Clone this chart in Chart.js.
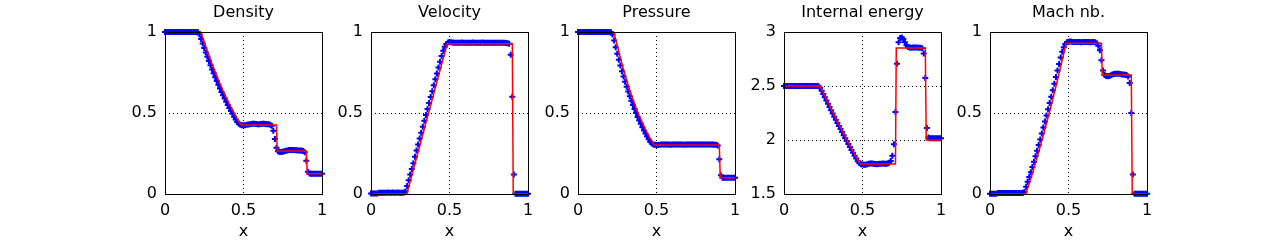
<!DOCTYPE html>
<html>
<head>
<meta charset="utf-8">
<script src="https://cdn.jsdelivr.net/npm/chart.js@4.4.1/dist/chart.umd.min.js"></script>
<style>
  html, body { margin: 0; padding: 0; background: #fff; }
  #wrap { position: relative; width: 1267px; height: 243px; overflow: hidden; background: #fff; }
  #wrap canvas { position: absolute; top: 0; }
</style>
</head>
<body>
<div id="wrap">
  <canvas id="c0" width="267" height="243"></canvas>
  <canvas id="c1" width="267" height="243"></canvas>
  <canvas id="c2" width="267" height="243"></canvas>
  <canvas id="c3" width="267" height="243"></canvas>
  <canvas id="c4" width="267" height="243"></canvas>
</div>
<script>
// Sod shock tube: numerical solution (blue +) against exact solution (red)

// cell grid
const xGrid = [
  0, 0.01, 0.02, 0.03, 0.04, 0.05, 0.06, 0.07, 0.08, 0.09,
  0.10, 0.11, 0.12, 0.13, 0.14, 0.15, 0.16, 0.17, 0.18, 0.19,
  0.20, 0.21, 0.22, 0.23, 0.24, 0.25, 0.26, 0.27, 0.28, 0.29,
  0.30, 0.31, 0.32, 0.33, 0.34, 0.35, 0.36, 0.37, 0.38, 0.39,
  0.40, 0.41, 0.42, 0.43, 0.44, 0.45, 0.46, 0.47, 0.48, 0.49,
  0.50, 0.51, 0.52, 0.53, 0.54, 0.55, 0.56, 0.57, 0.58, 0.59,
  0.60, 0.61, 0.62, 0.63, 0.64, 0.65, 0.66, 0.67, 0.68, 0.69,
  0.70, 0.71, 0.72, 0.73, 0.74, 0.75, 0.76, 0.77, 0.78, 0.79,
  0.80, 0.81, 0.82, 0.83, 0.84, 0.85, 0.86, 0.87, 0.88, 0.89,
  0.90, 0.91, 0.92, 0.93, 0.94, 0.95, 0.96, 0.97, 0.98, 0.99,
  1.00
];

// numerical values (blue markers)
const density = [
  1, 1, 1, 1, 1, 1, 1, 1, 1, 1,
  1, 1, 1, 1, 1, 1, 1, 1, 1, 1,
  1, 0.998, 0.985, 0.957, 0.929, 0.901, 0.874, 0.847, 0.821, 0.795,
  0.769, 0.745, 0.720, 0.697, 0.674, 0.652, 0.630, 0.609, 0.589, 0.569,
  0.549, 0.531, 0.512, 0.495, 0.477, 0.460, 0.445, 0.434, 0.428, 0.425,
  0.424, 0.425, 0.427, 0.429, 0.431, 0.432, 0.433, 0.433, 0.432, 0.431,
  0.431, 0.432, 0.433, 0.433, 0.432, 0.431, 0.430, 0.428, 0.422, 0.390,
  0.340, 0.285, 0.264, 0.259, 0.259, 0.261, 0.264, 0.267, 0.269, 0.271,
  0.272, 0.272, 0.271, 0.270, 0.270, 0.269, 0.269, 0.268, 0.266, 0.258,
  0.206, 0.138, 0.126, 0.125, 0.125, 0.125, 0.125, 0.125, 0.125, 0.125,
  0.125
];

const velocity = [
  0.003, 0.003, 0.003, 0.003, 0.003, 0.008, 0.008, 0.008, 0.008, 0.008,
  0.008, 0.009, 0.008, 0.008, 0.009, 0.008, 0.008, 0.009, 0.008, 0.008,
  0.008, 0.009, 0.015, 0.050, 0.085, 0.120, 0.155, 0.190, 0.230, 0.268,
  0.305, 0.342, 0.378, 0.415, 0.452, 0.488, 0.525, 0.561, 0.598, 0.634,
  0.671, 0.708, 0.744, 0.781, 0.817, 0.852, 0.884, 0.909, 0.926, 0.935,
  0.938, 0.937, 0.935, 0.934, 0.934, 0.933, 0.934, 0.934, 0.935, 0.934,
  0.934, 0.933, 0.933, 0.934, 0.934, 0.935, 0.934, 0.934, 0.933, 0.934,
  0.934, 0.935, 0.934, 0.934, 0.933, 0.933, 0.934, 0.934, 0.934, 0.933,
  0.934, 0.934, 0.933, 0.934, 0.934, 0.933, 0.932, 0.931, 0.928, 0.860,
  0.600, 0.120, 0.002, 0.002, 0.002, 0.002, 0.002, 0.002, 0.002, 0.002,
  0.002
];

const pressure = [
  1, 1, 1, 1, 1, 1, 1, 1, 1, 1,
  1, 1, 1, 1, 1, 1, 1, 1, 1, 1,
  1, 0.998, 0.985, 0.948, 0.906, 0.866, 0.829, 0.793, 0.758, 0.725,
  0.693, 0.662, 0.632, 0.603, 0.576, 0.550, 0.524, 0.500, 0.476, 0.454,
  0.433, 0.412, 0.392, 0.373, 0.355, 0.338, 0.323, 0.312, 0.306, 0.304,
  0.303, 0.303, 0.304, 0.305, 0.306, 0.306, 0.306, 0.305, 0.305, 0.304,
  0.305, 0.305, 0.306, 0.306, 0.306, 0.305, 0.305, 0.305, 0.304, 0.305,
  0.305, 0.305, 0.306, 0.306, 0.306, 0.306, 0.305, 0.305, 0.305, 0.305,
  0.305, 0.306, 0.306, 0.306, 0.305, 0.305, 0.305, 0.304, 0.304, 0.300,
  0.214, 0.115, 0.101, 0.1, 0.1, 0.1, 0.1, 0.1, 0.1, 0.1,
  0.1
];

const energy = [
  2.5, 2.5, 2.5, 2.5, 2.5, 2.5, 2.5, 2.5, 2.5, 2.5,
  2.5, 2.5, 2.5, 2.5, 2.5, 2.5, 2.5, 2.5, 2.5, 2.5,
  2.5, 2.5, 2.497, 2.483, 2.455, 2.425, 2.395, 2.365, 2.335, 2.305,
  2.275, 2.245, 2.215, 2.187, 2.158, 2.130, 2.101, 2.073, 2.045, 2.017,
  1.990, 1.962, 1.935, 1.908, 1.881, 1.855, 1.829, 1.804, 1.786, 1.776,
  1.772, 1.770, 1.771, 1.775, 1.779, 1.782, 1.783, 1.781, 1.778, 1.776,
  1.777, 1.779, 1.781, 1.782, 1.781, 1.780, 1.782, 1.790, 1.805, 1.855,
  1.960, 2.260, 2.705, 2.905, 2.945, 2.950, 2.935, 2.905, 2.878, 2.862,
  2.856, 2.855, 2.856, 2.857, 2.857, 2.856, 2.855, 2.855, 2.850, 2.800,
  2.575, 2.110, 2.022, 2.017, 2.017, 2.017, 2.017, 2.017, 2.017, 2.017,
  2.017
];

const mach = [
  0.002, 0.002, 0.002, 0.002, 0.002, 0.006, 0.006, 0.006, 0.006, 0.006,
  0.006, 0.006, 0.006, 0.006, 0.006, 0.006, 0.006, 0.006, 0.006, 0.006,
  0.006, 0.007, 0.013, 0.045, 0.075, 0.105, 0.135, 0.166, 0.199, 0.233,
  0.267, 0.302, 0.337, 0.373, 0.410, 0.447, 0.485, 0.523, 0.562, 0.601,
  0.641, 0.681, 0.722, 0.762, 0.802, 0.842, 0.878, 0.906, 0.926, 0.936,
  0.940, 0.941, 0.940, 0.938, 0.938, 0.939, 0.938, 0.938, 0.937, 0.938,
  0.938, 0.939, 0.938, 0.938, 0.937, 0.938, 0.938, 0.936, 0.930, 0.915,
  0.887, 0.825, 0.762, 0.735, 0.728, 0.727, 0.729, 0.733, 0.738, 0.741,
  0.743, 0.743, 0.742, 0.740, 0.738, 0.737, 0.736, 0.735, 0.726, 0.685,
  0.500, 0.120, 0.002, 0.002, 0.002, 0.002, 0.002, 0.002, 0.002, 0.002,
  0.002
];

// exact solution (red line), breakpoints
const densityExactX = [0, 0.228, 0.25, 0.27, 0.29, 0.31, 0.33, 0.35, 0.37, 0.39, 0.41, 0.43, 0.45, 0.47, 0.485, 0.710, 0.715, 0.900, 0.906, 1];
const densityExactY = [1, 1, 0.940, 0.883, 0.829, 0.777, 0.728, 0.681, 0.637, 0.595, 0.555, 0.518, 0.482, 0.449, 0.426, 0.426, 0.266, 0.266, 0.125, 0.125];

const velocityExactX = [0, 0.228, 0.485, 0.900, 0.906, 1];
const velocityExactY = [0, 0, 0.9275, 0.9275, 0, 0];

const pressureExactX = [0, 0.228, 0.25, 0.27, 0.29, 0.31, 0.33, 0.35, 0.37, 0.39, 0.41, 0.43, 0.45, 0.47, 0.485, 0.900, 0.906, 1];
const pressureExactY = [1, 1, 0.917, 0.840, 0.768, 0.702, 0.641, 0.584, 0.532, 0.483, 0.439, 0.398, 0.360, 0.326, 0.303, 0.303, 0.1, 0.1];

const energyExactX = [0, 0.228, 0.27, 0.31, 0.35, 0.39, 0.43, 0.47, 0.485, 0.710, 0.715, 0.900, 0.906, 1];
const energyExactY = [2.5, 2.5, 2.379, 2.260, 2.144, 2.031, 1.921, 1.815, 1.778, 1.778, 2.853, 2.853, 2.0, 2.0];

const machExactX = [0, 0.228, 0.27, 0.31, 0.35, 0.39, 0.43, 0.47, 0.485, 0.710, 0.715, 0.900, 0.906, 1];
const machExactY = [0, 0, 0.126, 0.259, 0.400, 0.548, 0.704, 0.869, 0.930, 0.930, 0.734, 0.734, 0, 0];

// ticks
const xTicks = [0, 0.5, 1];
const unitTicks = [0, 0.5, 1];
const energyTicks = [1.5, 2, 2.5, 3];

const panels = [
  { title: "Density", values: density, ex: densityExactX, ey: densityExactY, yTicks: unitTicks, left: 165 },
  { title: "Velocity", values: velocity, ex: velocityExactX, ey: velocityExactY, yTicks: unitTicks, left: 371 },
  { title: "Pressure", values: pressure, ex: pressureExactX, ey: pressureExactY, yTicks: unitTicks, left: 578 },
  { title: "Internal energy", values: energy, ex: energyExactX, ey: energyExactY, yTicks: energyTicks, left: 784 },
  { title: "Mach nb.", values: mach, ex: machExactX, ey: machExactY, yTicks: unitTicks, left: 990 },
];

const AXIS_W = 55;   // room for y tick labels, left of the box (mirrored on the right)
const X_AXIS_H = 49; // tick labels + "x" below the box
const FONT = "'DejaVu Sans', 'Liberation Sans', sans-serif";

Chart.defaults.font.family = FONT;
Chart.defaults.color = "#000";

// black box around the plot area, drawn on top like matlab
const boxPlugin = {
  id: "box",
  afterDatasetsDraw(chart) {
    const { ctx, chartArea: a } = chart;
    const l = Math.round(a.left) + 0.5;
    const r = Math.round(a.right) + 0.5;
    const t = Math.round(a.top) + 0.5;
    const b = Math.round(a.bottom) + 0.5;
    ctx.save();
    ctx.strokeStyle = "#000";
    ctx.lineWidth = 1;
    ctx.strokeRect(l, t, r - l, b - t);
    ctx.restore();
  },
};

panels.forEach((p, k) => {
  const canvas = document.getElementById("c" + k);
  canvas.style.left = (p.left - AXIS_W) + "px";

  const yMin = p.yTicks[0];
  const yMax = p.yTicks[p.yTicks.length - 1];

  new Chart(canvas.getContext("2d"), {
    type: "scatter",
    data: {
      datasets: [
        {
          label: "exact",
          data: p.ex.map((x, i) => ({ x, y: p.ey[i] })),
          showLine: true,
          borderColor: "rgb(255,0,0)",
          borderWidth: 1.5,
          pointRadius: 0,
          tension: 0,
          order: 0,
        },
        {
          label: "numerical",
          data: p.values.map((y, i) => ({ x: xGrid[i], y })),
          showLine: false,
          pointStyle: "cross",
          pointRadius: 3,
          pointBorderWidth: 2,
          pointBorderColor: "rgb(0,0,255)",
          pointBackgroundColor: "rgb(0,0,255)",
          clip: false,
          order: 1,
        },
      ],
    },
    options: {
      responsive: false,
      maintainAspectRatio: false,
      animation: false,
      events: [],
      layout: { padding: 0 },
      plugins: {
        legend: { display: false },
        tooltip: { enabled: false },
        title: {
          display: true,
          text: p.title,
          color: "#000",
          font: { family: FONT, size: 16, weight: "normal", lineHeight: 1.25 },
          padding: { top: 3, bottom: 9 },
        },
      },
      scales: {
        x: {
          type: "linear",
          min: 0,
          max: 1,
          afterBuildTicks: (s) => { s.ticks = xTicks.map((v) => ({ value: v })); },
          afterFit: (s) => { s.height = X_AXIS_H; },
          ticks: {
            color: "#000",
            font: { family: FONT, size: 16 },
            padding: 7,
            maxRotation: 0,
            callback: (v) => String(v),
          },
          grid: { color: "#000", lineWidth: 1, drawTicks: false },
          border: { display: false, dash: [1, 3] },
          title: {
            display: true,
            text: "x",
            color: "#000",
            font: { family: FONT, size: 16 },
            padding: { top: 0, bottom: 2 },
          },
        },
        y: {
          type: "linear",
          position: "left",
          min: yMin,
          max: yMax,
          afterBuildTicks: (s) => { s.ticks = p.yTicks.map((v) => ({ value: v })); },
          afterFit: (s) => { s.width = AXIS_W; },
          ticks: {
            color: "#000",
            font: { family: FONT, size: 16 },
            padding: 8,
            callback: (v) => String(v),
          },
          grid: { color: "#000", lineWidth: 1, drawTicks: false },
          border: { display: false, dash: [1, 3] },
        },
        // empty right axis: same width as the left one so the title sits centred over the box
        yRight: {
          type: "linear",
          position: "right",
          min: yMin,
          max: yMax,
          afterFit: (s) => { s.width = AXIS_W; },
          ticks: { display: false },
          grid: { display: false },
          border: { display: false },
        },
      },
    },
    plugins: [boxPlugin],
  });
});
</script>
</body>
</html>
